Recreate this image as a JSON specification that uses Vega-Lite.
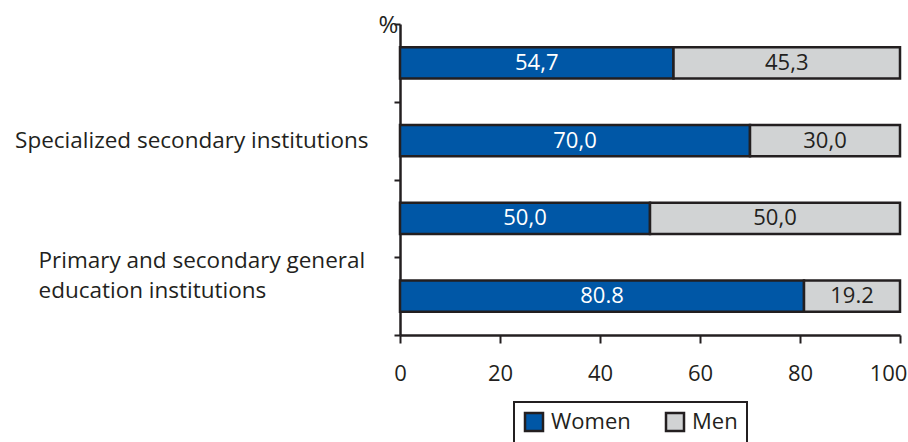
{
  "$schema": "https://vega.github.io/schema/vega-lite/v6.json",
  "width": 500,
  "height": 311,
  "autosize": "none",
  "padding": {"left": 400, "top": 24, "right": 8, "bottom": 107},
  "background": "white",
  "config": {"view": {"stroke": null}, "font": "Open Sans", "legend": {"strokeWidth": 2}},
  "data": {
    "values": [
      {"cat": " ", "gender": "Women", "order": 1, "value": 54.7, "label": "54,7"},
      {"cat": " ", "gender": "Men", "order": 2, "value": 45.3, "label": "45,3"},
      {"cat": "Specialized secondary institutions", "gender": "Women", "order": 1, "value": 70.0, "label": "70,0"},
      {"cat": "Specialized secondary institutions", "gender": "Men", "order": 2, "value": 30.0, "label": "30,0"},
      {"cat": "  ", "gender": "Women", "order": 1, "value": 50.0, "label": "50,0"},
      {"cat": "  ", "gender": "Men", "order": 2, "value": 50.0, "label": "50,0"},
      {"cat": "Primary and secondary general education institutions", "gender": "Women", "order": 1, "value": 80.8, "label": "80.8"},
      {"cat": "Primary and secondary general education institutions", "gender": "Men", "order": 2, "value": 19.2, "label": "19.2"}
    ]
  },
  "transform": [
    {"stack": "value", "groupby": ["cat"], "sort": [{"field": "order", "order": "ascending"}], "as": ["x0", "x1"]},
    {"calculate": "(datum.x0 + datum.x1) / 2", "as": "mid"}
  ],
  "layer": [
    {
      "mark": {"type": "bar", "stroke": "#231f20", "strokeWidth": 2.5, "height": {"band": 0.4}},
      "encoding": {
        "y": {
          "field": "cat", "type": "nominal", "sort": null,
          "scale": {"paddingInner": 0, "paddingOuter": 0},
          "axis": {
            "title": "%", "titleAngle": 0, "titleX": -12, "titleY": 1, "titleAlign": "center", "titleBaseline": "middle",
            "titleFontSize": 24, "titleFontWeight": "normal", "titleColor": "#231f20",
            "domainColor": "#231f20", "domainWidth": 2.5,
            "ticks": true, "tickBand": "extent", "tickSize": 6, "tickWidth": 2, "tickColor": "#231f20",
            "labelFontSize": 22.5, "labelColor": "#231f20", "labelLimit": 500,
            "labelLineHeight": 30,
            "labelExpr": "datum.value == 'Primary and secondary general education institutions' ? ['Primary and secondary general', 'education institutions'] : datum.value",
            "labelAlign": {"condition": {"test": "datum.value == 'Primary and secondary general education institutions'", "value": "left"}, "value": "right"},
            "labelPadding": {"condition": {"test": "datum.value == 'Primary and secondary general education institutions'", "value": 356}, "value": 26},
            "labelOffset": {"condition": {"test": "datum.value == 'Primary and secondary general education institutions'", "value": -36}, "value": 0}
          }
        },
        "x": {
          "field": "x0", "type": "quantitative",
          "scale": {"domain": [0, 100], "nice": false},
          "axis": {
            "title": null, "values": [0, 20, 40, 60, 80, 100], "grid": false,
            "domainColor": "#231f20", "domainWidth": 2.5,
            "tickSize": 8, "tickWidth": 2, "tickColor": "#231f20",
            "labelFontSize": 22, "labelColor": "#231f20", "labelPadding": 20, "labelFlush": false,
            "labelOffset": {"condition": {"test": "datum.value == 100", "value": -12}, "value": 0}
          }
        },
        "x2": {"field": "x1"},
        "color": {
          "field": "gender", "type": "nominal",
          "scale": {"domain": ["Women", "Men"], "range": ["#0057a6", "#d1d3d4"]},
          "legend": {
            "orient": "none", "legendX": 114, "legendY": 378, "direction": "horizontal", "title": null,
            "symbolType": "square", "symbolSize": 324, "symbolStrokeWidth": 2.5, "symbolStrokeColor": "#231f20",
            "labelFontSize": 22, "labelColor": "#231f20", "labelOffset": 6, "columnPadding": 30,
            "strokeColor": "#231f20", "padding": 9
          }
        }
      }
    },
    {
      "mark": {"type": "text", "fontSize": 22, "baseline": "middle", "align": "center"},
      "encoding": {
        "y": {"field": "cat", "type": "nominal", "sort": null},
        "x": {"field": "mid", "type": "quantitative"},
        "text": {"field": "label"},
        "color": {"condition": {"test": "datum.gender == 'Women'", "value": "#ffffff"}, "value": "#231f20"}
      }
    }
  ]
}
